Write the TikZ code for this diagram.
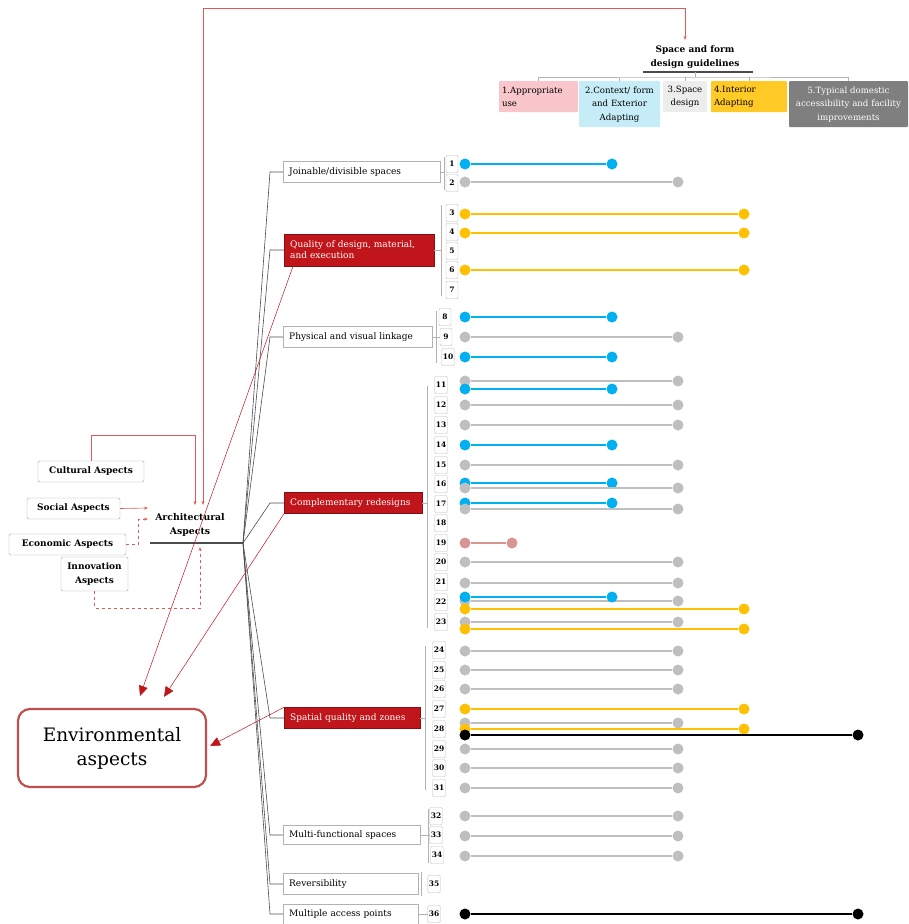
\documentclass[tikz,border=0pt]{standalone}
\usepackage{fontspec}
\setmainfont{DejaVu Serif}
\usetikzlibrary{arrows.meta,positioning}

\definecolor{cblue}{HTML}{00B0F0}
\definecolor{cgray}{HTML}{BFBFBF}
\definecolor{cyellow}{HTML}{FFC000}
\definecolor{cpink}{HTML}{D99594}
\definecolor{cred}{HTML}{C0151A}
\definecolor{cframe}{HTML}{C0504D}
\definecolor{clink}{HTML}{E05A5A}
\definecolor{hpink}{HTML}{F8C6CB}
\definecolor{hblue}{HTML}{C6ECF8}
\definecolor{hgray}{HTML}{EDEDED}
\definecolor{hgold}{HTML}{FFC926}
\definecolor{hdark}{HTML}{7F7F7F}

\tikzset{
    catbox/.style={draw=gray!60, fill=white, anchor=west, align=left, inner xsep=6pt, minimum height=21pt, font=\fontsize{9}{11}\selectfont},
    catred/.style={catbox, draw=cred!70!black, fill=cred, text=white},
    numbox/.style={draw=gray!55, rounded corners=1pt, fill=white, inner sep=1pt, minimum width=12pt, minimum height=17pt, font=\bfseries\fontsize{7.5}{8}\selectfont},
    aspbox/.style={draw=gray!70, rounded corners=1.5pt, fill=white, align=center, minimum height=21pt, font=\bfseries\fontsize{9}{14}\selectfont},
    hdbox/.style={anchor=north, rounded corners=1pt, inner sep=3pt, minimum height=31pt, font=\fontsize{8.6}{13.5}\selectfont},
    treeline/.style={draw=gray!60!black, line width=0.6pt},
    bracket/.style={draw=gray!60, line width=0.6pt},
    redlink/.style={draw=clink, line width=0.6pt, -{Stealth[length=4pt]}},
    reddash/.style={redlink, dashed},
    envarrow/.style={draw=cred, line width=0.5pt, -{Triangle[length=10pt,width=9pt]}},
    dot/.style={circle, inner sep=0pt, minimum size=11pt},
    bdot/.style={dot, fill=cblue}, bline/.style={draw=cblue, line width=1.6pt},
    gdot/.style={dot, fill=cgray}, gline/.style={draw=cgray, line width=1.4pt},
    ydot/.style={dot, fill=cyellow}, yline/.style={draw=cyellow, line width=1.4pt},
    pdot/.style={dot, fill=cpink}, pline/.style={draw=cpink, line width=1.4pt},
    kdot/.style={dot, fill=black}, kline/.style={draw=black, line width=1.2pt}
}

\begin{document}
\begin{tikzpicture}[x=1pt, y=-1pt]
    \useasboundingbox (0,0) rectangle (908,924);

    % Guidelines header
    \node[font=\bfseries\fontsize{9}{14}\selectfont, align=center] (title) at (695,57) {Space and form\\design guidelines};
    \node[hdbox, fill=hpink, text width=73pt, align=left] (h1) at (538.5,81) {1.Appropriate\\use};
    \node[hdbox, fill=hblue, text width=75pt, align=center, minimum height=46pt] (h2) at (619.5,81) {2.Context/ form\\and Exterior\\Adapting};
    \node[hdbox, fill=hgray, text width=38pt, align=center] (h3) at (685,81) {3.Space\\design};
    \node[hdbox, fill=hgold, text width=70pt, align=left] (h4) at (749,81) {4.Interior\\Adapting};
    \node[hdbox, fill=hdark, text=white, text width=115pt, inner xsep=2pt, align=center, minimum height=46pt] (h5) at (848.5,81) {5.Typical domestic\\accessibility and facility\\improvements};
    \coordinate (hbar) at (695,77);
    \draw[line width=2.5pt, gray!60!black] (643,72) -- (753,72);
    \draw[bracket] (695,72) -- (hbar);
    \draw[bracket] (h1.north) |- (hbar) -| (h5.north);
    \draw[bracket] (h2.north) -- ++(0,-4);
    \draw[bracket] (h3.north) -- ++(0,-4);
    \draw[bracket] (h4.north) -- ++(0,-4);

    % Aspects
    \node[aspbox, minimum width=106pt] (cultural) at (91,471.5) {Cultural Aspects};
    \node[aspbox, minimum width=93pt] (social) at (73.5,508.5) {Social Aspects};
    \node[aspbox, minimum width=117pt] (economic) at (67.5,544.5) {Economic Aspects};
    \node[aspbox, minimum width=67pt, minimum height=34pt] (innovation) at (94.5,574) {Innovation\\Aspects};
    \node[font=\bfseries\fontsize{9.3}{14}\selectfont, align=center] (arch) at (190,525) {Architectural\\Aspects};
    \coordinate (archleft) at (150,543);
    \coordinate (root) at (243,543);
    \draw[line width=2.2pt, gray!60!black] (archleft) -- (root);

    % Red links into Architectural Aspects
    \coordinate (rtop) at (203,8);
    \coordinate (rend) at (685,40);
    \coordinate (archtop1) at (195,505);
    \coordinate (archtop2) at (203,505);
    \coordinate (archin1) at (148,508);
    \coordinate (archin2) at (148,519);
    \coordinate (archbot) at (200,547);
    \draw[redlink] (rtop) -| (rend);
    \draw[redlink] (rtop) -- (archtop2);
    \draw[redlink] (cultural.north) -- ++(0,-26) -| (archtop1);
    \draw[redlink] (social.east) -- (archin1);
    \draw[reddash] (economic.east) -- ++(12,0) |- (archin2);
    \draw[reddash] (innovation.south) -- ++(0,17) -| (archbot);

    % Categories
    \node[catbox, text width=145pt] (joinable) at (283,172) {Joinable/divisible spaces};
    \node[catred, text width=138pt, minimum height=32pt] (quality) at (284,250) {Quality of design, material,\\and execution};
    \node[catbox, text width=137pt] (physical) at (283,337) {Physical and visual linkage};
    \node[catred, text width=126pt] (comp) at (284,503) {Complementary redesigns};
    \node[catred, text width=124pt] (spatial) at (284,718) {Spatial quality and zones};
    \node[catbox, text width=125pt, minimum height=19pt] (multi) at (283,835) {Multi-functional spaces};
    \node[catbox, text width=123pt] (revers) at (283,884) {Reversibility};
    \node[catbox, text width=123pt, minimum height=20pt] (access) at (283,914) {Multiple access points};

    % Tree
    \draw[treeline] (root) -- ([xshift=-13pt]joinable.west) -- (joinable.west);
    \draw[treeline] (root) -- ([xshift=-14pt]quality.west) -- (quality.west);
    \draw[treeline] (root) -- ([xshift=-13pt]physical.west) -- (physical.west);
    \draw[treeline] (root) -- ([xshift=-14pt]comp.west) -- (comp.west);
    \draw[treeline] (root) -- ([xshift=-14pt]spatial.west) -- (spatial.west);
    \draw[treeline] (root) -- ([xshift=-13pt]multi.west) -- (multi.west);
    \draw[treeline] (root) -- ([xshift=-13pt]revers.west) -- (revers.west);
    \draw[treeline] (root) -- ([xshift=-13pt]access.west) -- (access.west);

    % Number boxes
    \node[numbox] (n1) at (452,164) {1};
    \node[numbox] (n2) at (452,183) {2};
    \node[numbox] (n3) at (452,213) {3};
    \node[numbox] (n4) at (452,232) {4};
    \node[numbox] (n5) at (452,251) {5};
    \node[numbox] (n6) at (452,270) {6};
    \node[numbox] (n7) at (452,290) {7};
    \node[numbox] (n8) at (445,317) {8};
    \node[numbox] (n9) at (446,337) {9};
    \node[numbox] (n10) at (448,357) {10};
    \node[numbox] (n11) at (441,385) {11};
    \node[numbox] (n12) at (441,405) {12};
    \node[numbox] (n13) at (441,425) {13};
    \node[numbox] (n14) at (441,445) {14};
    \node[numbox] (n15) at (441,465) {15};
    \node[numbox] (n16) at (441,484) {16};
    \node[numbox] (n17) at (441,504) {17};
    \node[numbox] (n18) at (441,523) {18};
    \node[numbox] (n19) at (441,543) {19};
    \node[numbox] (n20) at (441,562) {20};
    \node[numbox] (n21) at (441,582) {21};
    \node[numbox] (n22) at (441,602) {22};
    \node[numbox] (n23) at (441,622) {23};
    \node[numbox] (n24) at (439,650) {24};
    \node[numbox] (n25) at (439,670) {25};
    \node[numbox] (n26) at (439,689) {26};
    \node[numbox] (n27) at (439,709) {27};
    \node[numbox] (n28) at (439,729) {28};
    \node[numbox] (n29) at (439,749) {29};
    \node[numbox] (n30) at (439,768) {30};
    \node[numbox] (n31) at (439,788) {31};
    \node[numbox] (n32) at (436,816) {32};
    \node[numbox] (n33) at (436,835) {33};
    \node[numbox] (n34) at (437,855) {34};
    \node[numbox] (n35) at (434,884) {35};
    \node[numbox] (n36) at (434,914) {36};

    % Brackets
    \draw[bracket] (joinable.east) -- (444,172);
    \draw[bracket] (444,157) -- (444,190);
    \draw[bracket] (quality.east) -- (441,250);
    \draw[bracket] (441,205) -- (441,296);
    \draw[bracket] (physical.east) -- (n9.west);
    \draw[bracket] (436,311) -- (436,363);
    \draw[bracket] (comp.east) -- (427,503);
    \draw[bracket] (427,386) -- (427,628);
    \draw[bracket] (spatial.east) -- (425,718);
    \draw[bracket] (425,646) -- (425,790);
    \draw[bracket] (multi.east) -- (n33.west);
    \draw[bracket] (428,809) -- (428,863);
    \draw[bracket] (421,872) -- (421,896);
    \draw[bracket] (access.east) -- (n36.west);

    % Dumbbells
    \node[bdot] (d1a) at (465,164) {}; \node[bdot] (d1b) at (612,164) {}; \draw[bline] (d1a) -- (d1b);
    \node[gdot] (d2a) at (465,182) {}; \node[gdot] (d2b) at (678,182) {}; \draw[gline] (d2a) -- (d2b);
    \node[ydot] (d3a) at (465,214) {}; \node[ydot] (d3b) at (744,214) {}; \draw[yline] (d3a) -- (d3b);
    \node[ydot] (d4a) at (465,233) {}; \node[ydot] (d4b) at (744,233) {}; \draw[yline] (d4a) -- (d4b);
    \node[ydot] (d6a) at (465,270) {}; \node[ydot] (d6b) at (744,270) {}; \draw[yline] (d6a) -- (d6b);
    \node[bdot] (d8a) at (465,317) {}; \node[bdot] (d8b) at (612,317) {}; \draw[bline] (d8a) -- (d8b);
    \node[gdot] (d9a) at (465,337) {}; \node[gdot] (d9b) at (678,337) {}; \draw[gline] (d9a) -- (d9b);
    \node[bdot] (d10a) at (465,357) {}; \node[bdot] (d10b) at (612,357) {}; \draw[bline] (d10a) -- (d10b);
    \node[gdot] (d11a) at (465,381) {}; \node[gdot] (d11b) at (678,381) {}; \draw[gline] (d11a) -- (d11b);
    \node[bdot] (e11a) at (465,389) {}; \node[bdot] (e11b) at (612,389) {}; \draw[bline] (e11a) -- (e11b);
    \node[gdot] (d12a) at (465,405) {}; \node[gdot] (d12b) at (678,405) {}; \draw[gline] (d12a) -- (d12b);
    \node[gdot] (d13a) at (465,425) {}; \node[gdot] (d13b) at (678,425) {}; \draw[gline] (d13a) -- (d13b);
    \node[bdot] (d14a) at (465,445) {}; \node[bdot] (d14b) at (612,445) {}; \draw[bline] (d14a) -- (d14b);
    \node[gdot] (d15a) at (465,465) {}; \node[gdot] (d15b) at (678,465) {}; \draw[gline] (d15a) -- (d15b);
    \node[bdot] (d16a) at (465,483) {}; \node[bdot] (d16b) at (612,483) {}; \draw[bline] (d16a) -- (d16b);
    \node[gdot] (e16a) at (465,488) {}; \node[gdot] (e16b) at (678,488) {}; \draw[gline] (e16a) -- (e16b);
    \node[bdot] (d17a) at (465,503) {}; \node[bdot] (d17b) at (612,503) {}; \draw[bline] (d17a) -- (d17b);
    \node[gdot] (e17a) at (465,509) {}; \node[gdot] (e17b) at (678,509) {}; \draw[gline] (e17a) -- (e17b);
    \node[pdot] (d19a) at (465,543) {}; \node[pdot] (d19b) at (512,543) {}; \draw[pline] (d19a) -- (d19b);
    \node[gdot] (d20a) at (465,562) {}; \node[gdot] (d20b) at (678,562) {}; \draw[gline] (d20a) -- (d20b);
    \node[gdot] (d21a) at (465,583) {}; \node[gdot] (d21b) at (678,583) {}; \draw[gline] (d21a) -- (d21b);
    \node[gdot] (d22a) at (465,601) {}; \node[gdot] (d22b) at (678,601) {}; \draw[gline] (d22a) -- (d22b);
    \node[bdot] (e22a) at (465,597) {}; \node[bdot] (e22b) at (612,597) {}; \draw[bline] (e22a) -- (e22b);
    \node[ydot] (f22a) at (465,609) {}; \node[ydot] (f22b) at (744,609) {}; \draw[yline] (f22a) -- (f22b);
    \node[gdot] (d23a) at (465,622) {}; \node[gdot] (d23b) at (678,622) {}; \draw[gline] (d23a) -- (d23b);
    \node[ydot] (e23a) at (465,629) {}; \node[ydot] (e23b) at (744,629) {}; \draw[yline] (e23a) -- (e23b);
    \node[gdot] (d24a) at (465,651) {}; \node[gdot] (d24b) at (678,651) {}; \draw[gline] (d24a) -- (d24b);
    \node[gdot] (d25a) at (465,670) {}; \node[gdot] (d25b) at (678,670) {}; \draw[gline] (d25a) -- (d25b);
    \node[gdot] (d26a) at (465,689) {}; \node[gdot] (d26b) at (678,689) {}; \draw[gline] (d26a) -- (d26b);
    \node[ydot] (d27a) at (465,709) {}; \node[ydot] (d27b) at (744,709) {}; \draw[yline] (d27a) -- (d27b);
    \node[gdot] (d28a) at (465,723) {}; \node[gdot] (d28b) at (678,723) {}; \draw[gline] (d28a) -- (d28b);
    \node[ydot] (e28a) at (465,729) {}; \node[ydot] (e28b) at (744,729) {}; \draw[yline] (e28a) -- (e28b);
    \node[kdot] (f28a) at (465,735) {}; \node[kdot] (f28b) at (858,735) {}; \draw[kline] (f28a) -- (f28b);
    \node[gdot] (d29a) at (465,749) {}; \node[gdot] (d29b) at (678,749) {}; \draw[gline] (d29a) -- (d29b);
    \node[gdot] (d30a) at (465,768) {}; \node[gdot] (d30b) at (678,768) {}; \draw[gline] (d30a) -- (d30b);
    \node[gdot] (d31a) at (465,788) {}; \node[gdot] (d31b) at (678,788) {}; \draw[gline] (d31a) -- (d31b);
    \node[gdot] (d32a) at (465,816) {}; \node[gdot] (d32b) at (678,816) {}; \draw[gline] (d32a) -- (d32b);
    \node[gdot] (d33a) at (465,836) {}; \node[gdot] (d33b) at (678,836) {}; \draw[gline] (d33a) -- (d33b);
    \node[gdot] (d34a) at (465,856) {}; \node[gdot] (d34b) at (678,856) {}; \draw[gline] (d34a) -- (d34b);
    \node[kdot] (d36a) at (465,914) {}; \node[kdot] (d36b) at (858,914) {}; \draw[kline] (d36a) -- (d36b);

    % Environmental aspects
    \node[draw=cframe, line width=2.2pt, rounded corners=12pt, minimum width=188pt, minimum height=78pt, align=center, font=\fontsize{18.5}{24}\selectfont] (env) at (112,748) {Environmental\\aspects};
    \draw[envarrow] ([xshift=9pt]quality.south west) -- ([xshift=28pt,yshift=12pt]env.north);
    \draw[envarrow] (comp.south west) -- ([xshift=52pt,yshift=11pt]env.north);
    \draw[envarrow] (spatial.north west) -- ([xshift=3pt,yshift=2pt]env.east);
\end{tikzpicture}
\end{document}
